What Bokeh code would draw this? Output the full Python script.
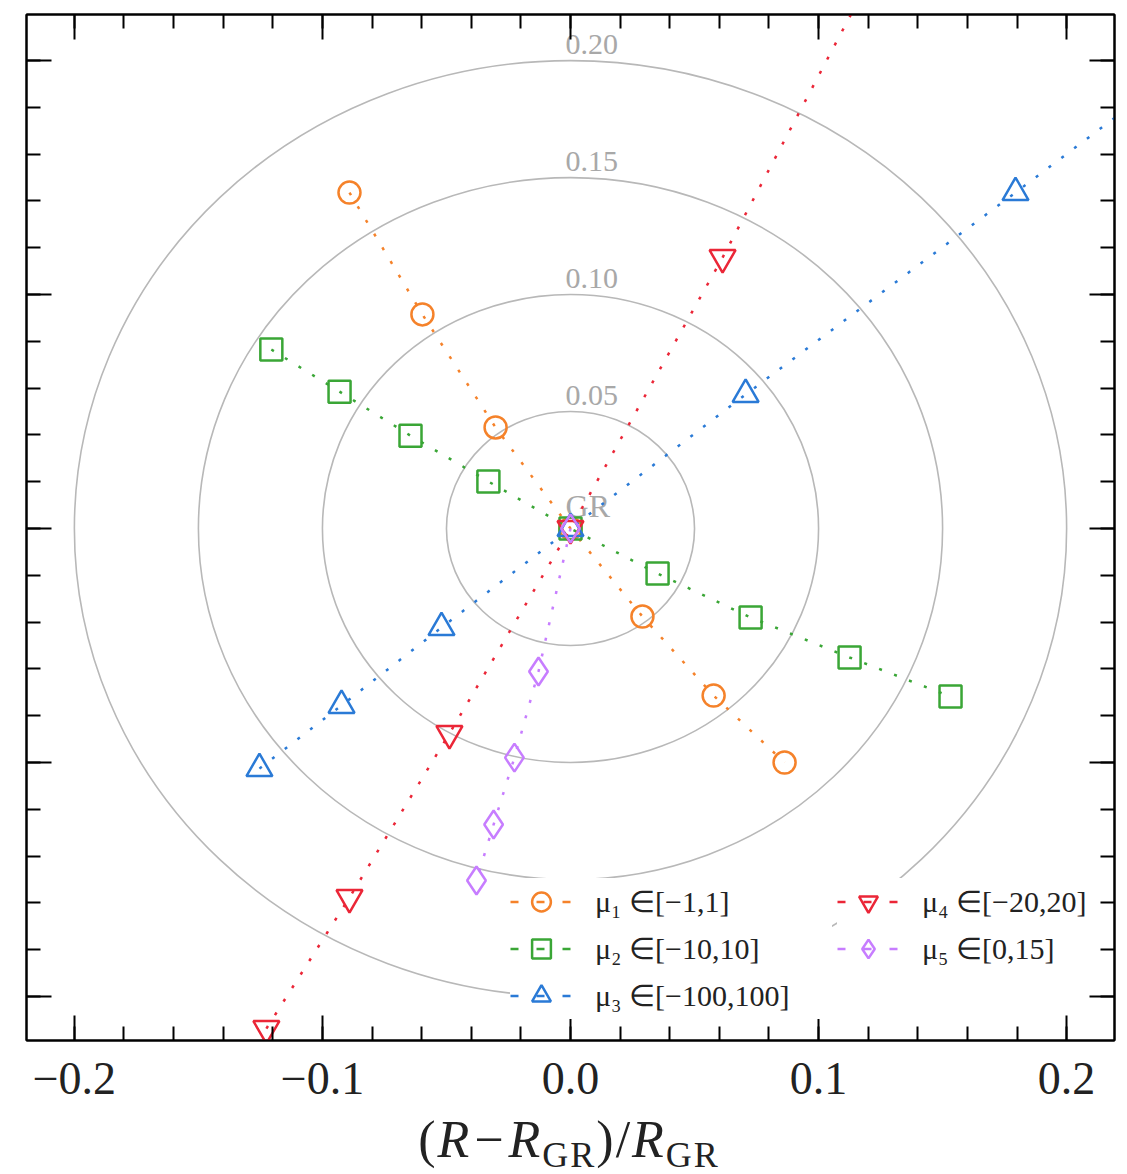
import numpy as np
from bokeh.plotting import figure
from bokeh.layouts import column
from bokeh.models import (ColumnDataSource, Range1d, FixedTicker, LinearAxis, Legend,
                          LegendItem, CustomJSTickFormatter, Div)
from bokeh.core.properties import value
from bokeh.embed import file_html
from bokeh.resources import INLINE

# ---------------- data ----------------
mu1_x = [-0.0891, -0.0597, -0.0302, 0.0, 0.0290, 0.0577, 0.0863]
mu1_y = [0.1436, 0.0915, 0.0432, 0.0, -0.0376, -0.0714, -0.1000]

mu2_x = [-0.1206, -0.0931, -0.0645, -0.0331, 0.0, 0.0351, 0.0726, 0.1125, 0.1532]
mu2_y = [0.0765, 0.0585, 0.0397, 0.0201, 0.0, -0.0192, -0.0380, -0.0551, -0.0718]

mu3_x = [-0.1254, -0.0923, -0.0520, 0.0, 0.0706, 0.1794, 0.3300]
mu3_y = [-0.1026, -0.0756, -0.0423, 0.0, 0.0573, 0.1436, 0.2640]

mu4_x = [-0.1226, -0.0891, -0.0488, 0.0, 0.0613, 0.1600]
mu4_y = [-0.2137, -0.1577, -0.0876, 0.0, 0.1158, 0.3140]

mu5_x = [0.0, -0.0129, -0.0226, -0.0310, -0.0379]
mu5_y = [0.0, -0.0611, -0.0979, -0.1265, -0.1504]

series_labels = ["μ₁ ∈[−1,1]", "μ₂ ∈[−10,10]", "μ₃ ∈[−100,100]", "μ₄ ∈[−20,20]", "μ₅ ∈[0,15]"]

circle_radii = [0.05, 0.10, 0.15, 0.20]
circle_labels = ["0.05", "0.10", "0.15", "0.20"]
center_label = ["GR"]

x_major_ticks = [-0.2, -0.1, 0.0, 0.1, 0.2]
y_major_ticks = [-0.2, -0.1, 0.0, 0.1, 0.2]
minor_ticks = [-0.2, -0.18, -0.16, -0.14, -0.12, -0.1, -0.08, -0.06, -0.04, -0.02, 0.0,
               0.02, 0.04, 0.06, 0.08, 0.1, 0.12, 0.14, 0.16, 0.18, 0.2]

# ---------------- styles ----------------
COLORS = ["#f5822a", "#3aa636", "#2a7ad6", "#eb2637", "#c77dff"]
MARKERS = ["circle", "square", "triangle", "inverted_triangle", "diamond"]
MSIZES = [22, 22, 26, 26, 28]
SERIF = "Liberation Serif"
GRAY_LINE = "#b8b8b8"
GRAY_TEXT = "#a8a8a8"
LABEL_GAP = 0.0068      # gap between circle top and its label (data units)
LABEL_X = -0.002        # left edge of circle labels
GR_GAP = 0.0098

p = figure(frame_width=1088, frame_height=1026,
           x_range=Range1d(-0.2193, 0.2193), y_range=Range1d(-0.2188, 0.2197),
           output_backend="svg", toolbar_location=None,
           min_border_left=26, min_border_top=14, min_border_right=6, min_border_bottom=75,
           background_fill_color="white", border_fill_color="white")
p.grid.visible = False
p.outline_line_color = "black"
p.outline_line_width = 2

# reference circles (in data units of each axis)
circ_src = ColumnDataSource(dict(x=[0.0] * len(circle_radii), y=[0.0] * len(circle_radii),
                                 w=[2 * r for r in circle_radii], h=[2 * r for r in circle_radii]))
p.ellipse(x="x", y="y", width="w", height="h", source=circ_src, fill_color=None,
          line_color=GRAY_LINE, line_width=1.6)

lab_src = ColumnDataSource(dict(x=[LABEL_X] * len(circle_radii),
                                y=[r + LABEL_GAP for r in circle_radii], t=circle_labels))
p.text(x="x", y="y", text="t", source=lab_src, text_font=value(SERIF), text_font_size="30px",
       text_color=GRAY_TEXT, text_align="left", text_baseline="alphabetic")
gr_src = ColumnDataSource(dict(x=[LABEL_X], y=[GR_GAP], t=center_label))
p.text(x="x", y="y", text="t", source=gr_src, text_font=value(SERIF), text_font_size="32px",
       text_color=GRAY_TEXT, text_align="left", text_baseline="alphabetic")

xs_all = [mu1_x, mu2_x, mu3_x, mu4_x, mu5_x]
ys_all = [mu1_y, mu2_y, mu3_y, mu4_y, mu5_y]
items = []
for xs, ys, c, m, s, lab in zip(xs_all, ys_all, COLORS, MARKERS, MSIZES, series_labels):
    src = ColumnDataSource(dict(x=xs, y=ys))
    p.line("x", "y", source=src, line_color=c, line_width=2.5, line_dash="3 13")
    sc = p.scatter("x", "y", source=src, marker=m, size=s, line_color=c, line_width=2.5,
                   fill_color=None)
    leg_line = p.line(x=[np.nan, np.nan], y=[np.nan, np.nan], line_color=c, line_width=2.5,
                      line_dash="8 18")
    items.append(LegendItem(label=lab, renderers=[leg_line, sc]))

legend_style = dict(orientation="vertical", glyph_width=62, glyph_height=47, label_standoff=23,
                    spacing=0, padding=5, border_line_color=None,
                    background_fill_color="white", background_fill_alpha=1.0,
                    label_text_font=SERIF, label_text_font_size="30px",
                    label_text_color="#222222")
legend1 = Legend(items=items[:3], location=(484, 21), label_width=237, **legend_style)
legend2 = Legend(items=items[3:], location=(811, 68), label_width=150, **legend_style)
p.add_layout(legend1, "center")
p.add_layout(legend2, "center")

# axes
def style_axis(ax, ticks, show_labels):
    ax.ticker = FixedTicker(ticks=ticks, minor_ticks=minor_ticks)
    ax.axis_line_color = "black"
    ax.axis_line_width = 2
    ax.major_tick_in = 25
    ax.major_tick_out = 0
    ax.minor_tick_in = 14
    ax.minor_tick_out = 0
    ax.major_tick_line_width = 2
    ax.minor_tick_line_width = 2
    ax.major_tick_line_color = "black"
    ax.minor_tick_line_color = "black"
    if show_labels:
        ax.formatter = CustomJSTickFormatter(code="return tick.toFixed(1).replace('-', '\u2212');")
        ax.major_label_text_font = SERIF
        ax.major_label_text_font_size = "46px"
        ax.major_label_text_color = "#222222"
        ax.major_label_standoff = 22
    else:
        ax.major_label_text_font_size = "0px"
        ax.major_label_standoff = 0
        ax.formatter = CustomJSTickFormatter(code="return '';")

style_axis(p.xaxis[0], x_major_ticks, True)
style_axis(p.yaxis[0], y_major_ticks, False)
top_ax = LinearAxis()
right_ax = LinearAxis()
style_axis(top_ax, x_major_ticks, False)
style_axis(right_ax, y_major_ticks, False)
p.add_layout(top_ax, "above")
p.add_layout(right_ax, "right")

# x axis label (R−R_GR)/R_GR as real text
sub = "font-size:36px; vertical-align:-10px; line-height:0;"
xlabel_html = (
    "<div style=\"width:1100px; box-sizing:border-box; padding-left:38px; text-align:center; "
    "font-family:'Liberation Serif'; font-size:52px; line-height:50px; color:#222222; "
    "letter-spacing:2px;\">"
    "(<i>R</i><span style='margin:0 3px;'>\u2212</span><i>R</i>"
    f"<span style='{sub}'>GR</span>)/<i>R</i><span style='{sub}'>GR</span></div>"
)
xlabel_div = Div(text=xlabel_html, width=1100, height=56, margin=(0, 0, 0, 0))

layout = column(p, xlabel_div, spacing=0)
open("out.html", "w").write(file_html(layout, INLINE))
